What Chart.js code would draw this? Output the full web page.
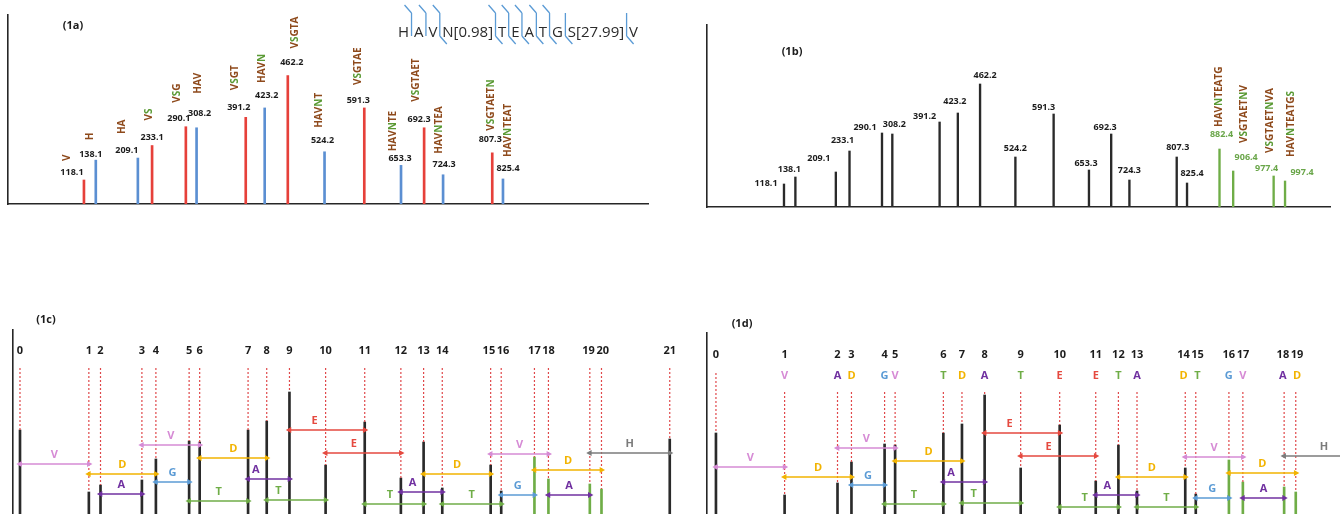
<!DOCTYPE html>
<html>
<head>
<meta charset="utf-8">
<script src="https://cdn.jsdelivr.net/npm/chart.js@4.4.1/dist/chart.umd.min.js"></script>
<style>
  html, body { margin: 0; padding: 0; background: #fff; overflow: hidden; width: 1344px; height: 514px; }
  canvas { position: absolute; }
</style>
</head>
<body>
<canvas id="c1a"></canvas>
<canvas id="c1b"></canvas>
<canvas id="c1c"></canvas>
<canvas id="c1d"></canvas>
<script>
// ---- Peptide HAVN[0.98]TEATGS[27.99]V : fragment data ----
const residues = ['H', 'A', 'V', 'N[0.98]', 'T', 'E', 'A', 'T', 'G', 'S[27.99]', 'V'];

// (1a) annotated b/y fragments
const mzA = [118.1, 138.1, 209.1, 233.1, 290.1, 308.2, 391.2, 423.2, 462.2, 524.2, 591.3, 653.3, 692.3, 724.3, 807.3, 825.4];
const ionsA = ['V', 'H', 'HA', 'VS', 'VSG', 'HAV', 'VSGT', 'HAVN', 'VSGTA', 'HAVNT', 'VSGTAE', 'HAVNTE', 'VSGTAET', 'HAVNTEA', 'VSGTAETN', 'HAVNTEAT'];
const intensityA = [23, 42, 44, 56, 74, 73, 83, 92, 123, 50, 92, 37, 73, 28, 49, 24];

// (1b) full peak list, four extra fragments at the high-mass end
const mzB = [118.1, 138.1, 209.1, 233.1, 290.1, 308.2, 391.2, 423.2, 462.2, 524.2, 591.3, 653.3, 692.3, 724.3, 807.3, 825.4, 882.4, 906.4, 977.4, 997.4];
const extraIonsB = ['HAVNTEATG', 'VSGTAETNV', 'VSGTAETNVA', 'HAVNTEATGS'];
const intensityB = [23, 30, 35, 56, 74, 73, 85, 94, 123, 50, 93, 37, 73, 27, 50, 24, 58, 36, 31, 26];

// (1c)/(1d) mass ladders: origin, peaks, precursor
const originIntensity = 85;
const precursorMz = 1114.5;
const precursorIntensity = 76;

// residue gaps between ladder positions
const gapFrom    = [0,     118.1, 138.1, 209.1, 233.1, 308.2, 290.1, 391.2, 423.2, 462.2, 524.2, 591.3, 653.3, 692.3, 724.3, 807.3, 825.4, 882.4, 906.4, 977.4];
const gapTo      = [118.1, 233.1, 209.1, 308.2, 290.1, 423.2, 391.2, 462.2, 524.2, 591.3, 653.3, 692.3, 724.3, 807.3, 825.4, 906.4, 882.4, 997.4, 977.4, 1114.5];
const gapResidue = ['V',   'D',   'A',   'V',   'G',   'D',   'T',   'A',   'T',   'E',   'E',   'T',   'A',   'D',   'T',   'V',   'G',   'D',   'A',   'H'];
const gapLevel   = [51,    41,    21,    70,    33,    57,    14,    36,    15,    85,    62,    11,    23,    41,    11,    61,    20,    45,    20,    62];

// ---- styling ----
const FONT = '"Open Sans", "Liberation Sans", sans-serif';
const AXIS = '#262626';
const INK = '#1c1c1c';
const BROWN = '#8E4A1C';
const LEAF = '#5A9A34';
const Y_RED = '#E6403A';
const B_BLUE = '#5B8FD2';
const STICK = '#2a2a2a';
const STICK_GREEN = '#6FAD47';
const NUM_GREEN = '#6AA64A';
const DASH_RED = '#E0484A';
const SEQ_BLUE = '#5B9BD5';
const residueColor = { V: '#D68BD5', D: '#F2B300', A: '#7030A0', G: '#5B9BD5', T: '#6FAD47', E: '#E5493F', H: '#7B7B7B' };

// label placement tweaks: [dx, lift above stick top, ion dx, ion gap]
const tweakA = {
  '118.1': [-12, 8, -5, 11], '138.1': [-5, 6, -1, 14], '209.1': [-11, 8, -5, 16], '233.1': [0, 8, -3, 17],
  '290.1': [-7, 8, -2, 16], '308.2': [3, 14, -1, 20], '391.2': [-7, 10, -4, 17], '423.2': [2, 12, -5, 13],
  '462.2': [4, 13, 3, 14], '524.2': [-2, 11, -3, 13], '591.3': [-6, 7, 0, 16], '653.3': [-1, 7, -7, 7],
  '692.3': [-5, 8, -3, 18], '724.3': [1, 10, -5, 11], '807.3': [-2, 13, 1, 9], '825.4': [5, 11, 0, 11]
};
const tweakB = {
  '118.1': [-18, 1], '138.1': [-6, 8], '209.1': [-17, 14], '233.1': [-7, 11], '290.1': [-17, 6],
  '308.2': [2, 10], '391.2': [-15, 6], '423.2': [-3, 12], '462.2': [5, 9], '524.2': [0, 9],
  '591.3': [-10, 7], '653.3': [-3, 7], '692.3': [-6, 7], '724.3': [0, 10], '807.3': [1, 10],
  '825.4': [5, 10], '882.4': [2, 15, -2, 7], '906.4': [13, 14, -2, 14], '977.4': [-7, 8, 4, 15], '997.4': [17, 9, -11, 15]
};

function place(id, left, top, w, h) {
  const cv = document.getElementById(id);
  cv.width = w; cv.height = h;
  cv.style.left = left + 'px'; cv.style.top = top + 'px';
  cv.style.width = w + 'px'; cv.style.height = h + 'px';
  return cv;
}

function baseOptions(pad, xMin, xMax, yMax) {
  const axis = (min, max) => ({
    type: 'linear', min, max, offset: false,
    grid: { display: false, drawTicks: false },
    ticks: { display: false },
    border: { display: true, color: AXIS, width: 1.6 }
  });
  return {
    responsive: false, animation: false, devicePixelRatio: 1,
    layout: { padding: pad },
    plugins: { legend: { display: false }, tooltip: { enabled: false } },
    scales: { x: axis(xMin, xMax), y: axis(0, yMax) }
  };
}

function stickSet(masses, values, colors, thickness) {
  return {
    type: 'bar', order: 3,
    data: masses.map((m, i) => ({ x: m, y: values[i] })),
    backgroundColor: colors, borderWidth: 0, barThickness: thickness, grouped: false
  };
}

// vertical text, reading bottom-to-top; S and N in green
function ionLabel(ctx, text, x, yBottom) {
  ctx.save();
  ctx.translate(x, yBottom);
  ctx.rotate(-Math.PI / 2);
  ctx.font = `bold 10px ${FONT}`;
  ctx.textAlign = 'left';
  ctx.textBaseline = 'middle';
  let cx = 0;
  for (const ch of text) {
    ctx.fillStyle = (ch === 'S' || ch === 'N') ? LEAF : BROWN;
    ctx.fillText(ch, cx, 0);
    cx += ctx.measureText(ch).width;
  }
  ctx.restore();
}

// push neighbouring centred labels apart so they do not collide
function spread(xs, widths, pad) {
  const out = xs.slice();
  for (let i = 1; i < out.length; i++) {
    const need = (widths[i - 1] + widths[i]) / 2 + pad - (out[i] - out[i - 1]);
    if (need > 0) { out[i - 1] -= need / 2; out[i] += need / 2; }
  }
  return out;
}

function isYIon(ion) { return ion[0] === 'V'; }

// ================= (1a) =================
const colorsA = ionsA.map(ion => isYIon(ion) ? Y_RED : B_BLUE);
new Chart(place('c1a', 0, 0, 672, 257), {
  type: 'bar',
  data: { datasets: [stickSet(mzA, intensityA, colorsA, 2)] },
  options: baseOptions({ left: 8, top: 15, right: 24, bottom: 53 }, -10.1, 1070.2, 181),
  plugins: [{
    id: 'labelsA',
    afterDatasetsDraw(chart) {
      const { ctx, scales: { x, y } } = chart;
      ctx.save();
      ctx.fillStyle = INK;
      ctx.font = `bold 11px ${FONT}`;
      ctx.textAlign = 'center'; ctx.textBaseline = 'middle';
      ctx.fillText('(1a)', 73, 26);

      mzA.forEach((m, i) => {
        const t = tweakA[m.toFixed(1)] || [0, 9, -2, 13];
        const nx = x.getPixelForValue(m) + t[0];
        const ny = y.getPixelForValue(intensityA[i]) - t[1];
        ctx.font = `bold 9px ${FONT}`;
        ctx.fillStyle = INK;
        ctx.textAlign = 'center'; ctx.textBaseline = 'middle';
        ctx.fillText(m.toFixed(1), nx, ny);
        ionLabel(ctx, ionsA[i], nx + t[2], ny - t[3]);
      });

      // sequence with fragment markers
      const n = residues.length;
      const bCut = new Set(ionsA.filter(s => !isYIon(s)).map(s => s.length));
      const yCut = new Set(ionsA.filter(isYIon).map(s => n - s.length));
      ctx.font = `15px ${FONT}`;
      ctx.fillStyle = '#2b2b2b';
      ctx.textAlign = 'left'; ctx.textBaseline = 'alphabetic';
      const widths = residues.map(r => ctx.measureText(r).width);
      const x0 = 398, x1 = 638;
      const gap = (x1 - x0 - widths.reduce((a, b) => a + b, 0)) / (n - 1);
      let cx = x0;
      ctx.strokeStyle = SEQ_BLUE; ctx.lineWidth = 1.3;
      residues.forEach((r, i) => {
        ctx.fillText(r, cx, 37);
        cx += widths[i];
        if (i < n - 1) {
          const mx = cx + gap / 2;
          const cut = i + 1;
          ctx.beginPath();
          ctx.moveTo(mx, 13); ctx.lineTo(mx, 36);
          if (bCut.has(cut)) { ctx.moveTo(mx, 13); ctx.lineTo(mx - 7, 5); }
          if (yCut.has(cut)) { ctx.moveTo(mx, 36); ctx.lineTo(mx + 7, 44); }
          ctx.stroke();
          cx += gap;
        }
      });
      ctx.restore();
    }
  }]
});

// ================= (1b) =================
const nA = mzA.length;
const colorsB = mzB.map((m, i) => i >= nA ? STICK_GREEN : STICK);
new Chart(place('c1b', 672, 0, 672, 257), {
  type: 'bar',
  data: { datasets: [stickSet(mzB, intensityB, colorsB, 1.7)] },
  options: baseOptions({ left: 35, top: 25, right: 14, bottom: 50 }, -17.0, 1076.3, 182),
  plugins: [{
    id: 'labelsB',
    afterDatasetsDraw(chart) {
      const { ctx, scales: { x, y } } = chart;
      ctx.save();
      ctx.fillStyle = INK;
      ctx.font = `bold 11px ${FONT}`;
      ctx.textAlign = 'center'; ctx.textBaseline = 'middle';
      ctx.fillText('(1b)', 120, 52);
      mzB.forEach((m, i) => {
        const t = tweakB[m.toFixed(1)] || [0, 9, -2, 13];
        const nx = x.getPixelForValue(m) + t[0];
        const ny = y.getPixelForValue(intensityB[i]) - t[1];
        ctx.font = `bold 9px ${FONT}`;
        ctx.fillStyle = i >= nA ? NUM_GREEN : INK;
        ctx.textAlign = 'center'; ctx.textBaseline = 'middle';
        ctx.fillText(m.toFixed(1), nx, ny);
        if (i >= nA) ionLabel(ctx, extraIonsB[i - nA], nx + t[2], ny - t[3]);
      });
      ctx.restore();
    }
  }]
});

// ================= (1c) / (1d) mass ladders =================
const gaps = gapFrom.map((f, i) => ({ from: f, to: gapTo[i], res: gapResidue[i], level: gapLevel[i] }));

function ladderChart(id, box, pad, xMin, xMax, masses, values, opts) {
  const colors = masses.map(m => (m > mzA[nA - 1] && m < precursorMz) ? STICK_GREEN : STICK);
  const present = new Set(masses);
  const arrows = gaps.filter(g => present.has(g.from) && present.has(g.to));
  // residue letter that ends at each ladder position
  const letters = masses.map(m => { const g = gaps.find(a => a.to === m); return g ? g.res : ''; });

  const dash = [];
  masses.forEach((m, i) => {
    const top = opts.letterRow ? (letters[i] ? opts.dashTop : opts.dashTopBare) : opts.dashTop;
    dash.push({ x: m, y: top }, { x: m, y: values[i] }, { x: m, y: null });
  });

  const datasets = [stickSet(masses, values, colors, 2), {
    type: 'line', order: 2, data: dash, spanGaps: false,
    borderColor: DASH_RED, borderWidth: 1.2, borderDash: [2, 2], pointRadius: 0
  }];
  arrows.forEach(a => {
    const c = residueColor[a.res];
    datasets.push({
      type: 'line', order: 1,
      data: [{ x: a.from, y: a.level }, { x: a.to, y: a.level }],
      borderColor: c, borderWidth: 1.5,
      pointStyle: 'triangle', pointRadius: 3.6, pointRotation: [-90, 90],
      pointBackgroundColor: c, pointBorderColor: c, pointBorderWidth: 0
    });
  });

  new Chart(place(id, box[0], box[1], box[2], box[3]), {
    type: 'bar',
    data: { datasets },
    options: baseOptions(pad, xMin, xMax, 185),
    plugins: [{
      id: 'ladderText',
      afterDatasetsDraw(chart) {
        const { ctx, chartArea, scales: { x, y } } = chart;
        ctx.save();
        ctx.textAlign = 'center'; ctx.textBaseline = 'middle';
        ctx.fillStyle = INK;
        ctx.font = `bold 11px ${FONT}`;
        ctx.fillText(opts.tag, opts.tagPos[0], opts.tagPos[1]);
        const px = masses.map(m => x.getPixelForValue(m));
        const names = masses.map((m, i) => String(i));
        const lx = spread(px, names.map(s => ctx.measureText(s).width), 1.5);
        masses.forEach((m, i) => {
          ctx.fillStyle = INK;
          ctx.fillText(names[i], lx[i], chartArea.top + opts.numberOffset);
          if (opts.letterRow && letters[i]) {
            ctx.fillStyle = residueColor[letters[i]];
            ctx.fillText(letters[i], lx[i], chartArea.top + opts.letterOffset);
          }
        });
        arrows.forEach(a => {
          let mx = (x.getPixelForValue(a.from) + x.getPixelForValue(a.to)) / 2;
          // keep the letter off any stick that falls under the middle of the arrow
          masses.forEach(m => {
            if (m > a.from && m < a.to) {
              const sx = x.getPixelForValue(m);
              if (Math.abs(mx - sx) < 7) mx = sx - 11;
            }
          });
          const my = y.getPixelForValue(a.level) - 9;
          ctx.fillStyle = residueColor[a.res];
          ctx.fillText(a.res, mx, my);
        });
        ctx.restore();
      }
    }]
  });
}

const ladderC = [0, ...mzB, precursorMz];
const ladderCValues = [originIntensity, ...intensityB, precursorIntensity];
ladderChart('c1c', [0, 257, 700, 273], { left: 13, top: 73, right: 5, bottom: 15 }, -12.0, 1157.8,
  ladderC, ladderCValues,
  { tag: '(1c)', tagPos: [46, 63], numberOffset: 21, letterRow: false, dashTop: 147 });

// (1d) ladder without the H (138.1) peak
const ladderD = ladderC.filter(m => m !== 138.1);
const ladderDValues = ladderCValues.filter((v, i) => ladderC[i] !== 138.1);
ladderChart('c1d', [672, 257, 672, 273], { left: 35, top: 76, right: 0, bottom: 12 }, -15.4, 1073.5,
  ladderD, ladderDValues,
  { tag: '(1d)', tagPos: [70, 67], numberOffset: 22, letterRow: true, letterOffset: 43, dashTop: 126, dashTopBare: 145 });
</script>
</body>
</html>
